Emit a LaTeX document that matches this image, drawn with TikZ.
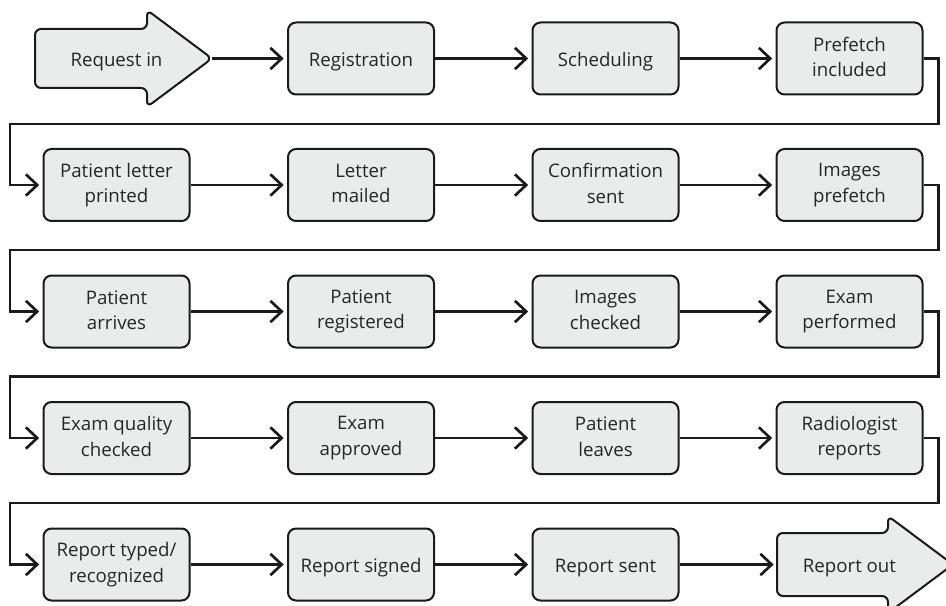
\documentclass[tikz,border=0pt]{standalone}
\usepackage{fontspec}
\setmainfont{Open Sans}
\usetikzlibrary{arrows.meta}
\definecolor{boxfill}{HTML}{EAEBEB}
\definecolor{ink}{HTML}{1A1A1A}
\definecolor{txt}{HTML}{262626}
\newcommand\linestrut{\rule[-2.25pt]{0pt}{17.25pt}}
\begin{document}
\begin{tikzpicture}[x=0.75pt,y=-0.75pt,
  stepbox/.style={draw=ink, line width=1.5pt, fill=boxfill, rounded corners=6pt,
    minimum width=109.5pt, minimum height=54pt, align=center, text=txt,
    font=\fontsize{14}{19}\selectfont, inner sep=0pt, execute at begin node=\linestrut},
  bigarrow/.style={draw=ink, line width=1.5pt, fill=boxfill, rounded corners=4.5pt},
  arrowtext/.style={text=txt, font=\fontsize{14}{19}\selectfont, inner sep=0pt, execute at begin node=\linestrut},
  flow/.style={draw=ink, line width=2pt, line join=miter,
    -{Straight Barb[length=8.5pt,width=16pt,line width=2pt]}, shorten >=2.5pt}]
\useasboundingbox (0,0) rectangle (946,606);
\clip (0,0) rectangle (946,606);
% start and end arrows
\draw[bigarrow] (35,29) -- (147,29) -- (147,10) -- (212,58.5) -- (147,107) -- (147,88) -- (35,88) -- cycle;
\node[arrowtext] (rin) at (116.5,58.5) {Request in};
\coordinate (rintip) at (212,58.5);
\draw[bigarrow] (777,533) -- (888,533) -- (888,516) -- (953,564.5) -- (888,613) -- (888,596) -- (777,596) -- cycle;
\node[arrowtext] (rout) at (849.5,564.5) {Report out};
\coordinate (routtail) at (777,564.5);
% row 1
\node[stepbox] (reg) at (361,58.5) {Registration};
\node[stepbox] (sch) at (605.5,58.5) {Scheduling};
\node[stepbox] (pre) at (849.5,58.5) {Prefetch\\\linestrut included};
% row 2
\node[stepbox] (plp) at (116.5,185) {Patient letter\\\linestrut printed};
\node[stepbox] (lm) at (361,185) {Letter\\\linestrut mailed};
\node[stepbox] (cs) at (605.5,185) {Confirmation\\\linestrut sent};
\node[stepbox] (ip) at (849.5,185) {Images\\\linestrut prefetch};
% row 3
\node[stepbox] (pa) at (116.5,311.5) {Patient\\\linestrut arrives};
\node[stepbox] (pr) at (361,311.5) {Patient\\\linestrut registered};
\node[stepbox] (ic) at (605.5,311.5) {Images\\\linestrut checked};
\node[stepbox] (ep) at (849.5,311.5) {Exam\\\linestrut performed};
% row 4
\node[stepbox] (eqc) at (116.5,438) {Exam quality\\\linestrut checked};
\node[stepbox] (ea) at (361,438) {Exam\\\linestrut approved};
\node[stepbox] (pl) at (605.5,438) {Patient\\\linestrut leaves};
\node[stepbox] (rr) at (849.5,438) {Radiologist\\\linestrut reports};
% row 5
\node[stepbox] (rt) at (116.5,564.5) {Report typed/\\\linestrut recognized};
\node[stepbox] (rs) at (361,564.5) {Report signed};
\node[stepbox] (rse) at (605.5,564.5) {Report sent};
% connectors
\draw[flow] (rintip) -- (reg.west);
\draw[flow] (reg.east) -- (sch.west);
\draw[flow] (sch.east) -- (pre.west);
\draw[flow] (pre.east) -- ++(15,0) |- (10,124) |- (plp.west);
\draw[flow] (plp.east) -- (lm.west);
\draw[flow] (lm.east) -- (cs.west);
\draw[flow] (cs.east) -- (ip.west);
\draw[flow] (ip.east) -- ++(15,0) |- (10,250) |- (pa.west);
\draw[flow] (pa.east) -- (pr.west);
\draw[flow] (pr.east) -- (ic.west);
\draw[flow] (ic.east) -- (ep.west);
\draw[flow] (ep.east) -- ++(15,0) |- (10,376.5) |- (eqc.west);
\draw[flow] (eqc.east) -- (ea.west);
\draw[flow] (ea.east) -- (pl.west);
\draw[flow] (pl.east) -- (rr.west);
\draw[flow] (rr.east) -- ++(15,0) |- (10,503) |- (rt.west);
\draw[flow] (rt.east) -- (rs.west);
\draw[flow] (rs.east) -- (rse.west);
\draw[flow] (rse.east) -- (routtail);
\end{tikzpicture}
\end{document}
